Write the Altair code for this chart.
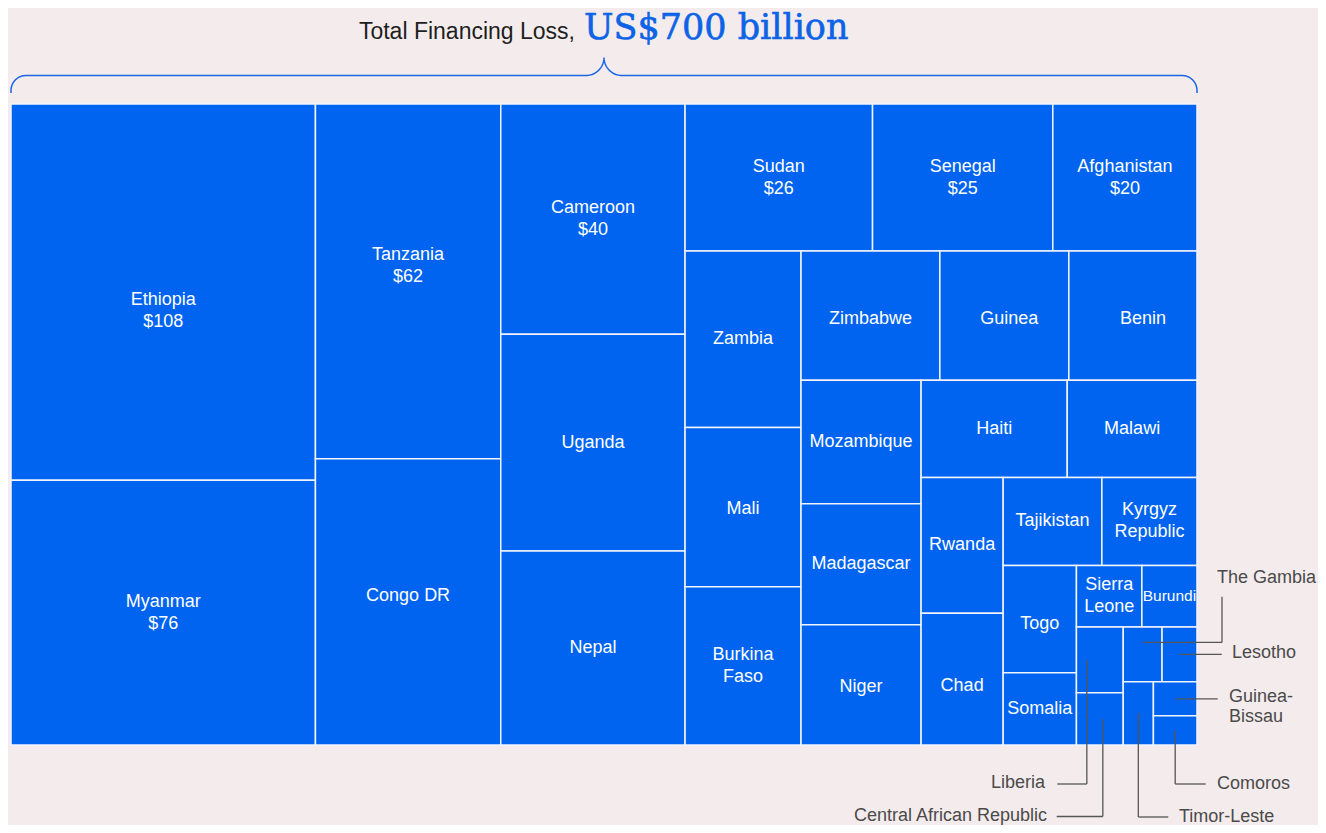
import altair as alt
import pandas as pd
import numpy as np

# ---------------- data ----------------
countries = ["Ethiopia", "Myanmar", "Tanzania", "Congo DR", "Cameroon", "Uganda", "Nepal",
             "Sudan", "Senegal", "Afghanistan", "Zambia", "Mali", "Burkina Faso", "Zimbabwe",
             "Guinea", "Benin", "Mozambique", "Madagascar", "Niger", "Haiti", "Malawi",
             "Rwanda", "Chad", "Tajikistan", "Kyrgyz Republic", "Togo", "Somalia",
             "Sierra Leone", "Burundi", "Liberia", "Central African Republic", "The Gambia",
             "Lesotho", "Timor-Leste", "Guinea-Bissau", "Comoros"]
loss_bn = [108, 76, 62, 50.0, 40, 37.7, 33.7,
           26, 25, 20, 19.3, 17.4, 17.3, 16.9,
           15.7, 15.6, 14.0, 13.7, 13.6, 13.4, 11.9,
           10.5, 10.2, 8.2, 7.9, 7.4, 5.0,
           3.8, 3.2, 2.9, 2.3, 2.0,
           1.8, 1.8, 1.4, 1.2]
show_value = ["Ethiopia", "Myanmar", "Tanzania", "Cameroon", "Sudan", "Senegal", "Afghanistan"]
outside_labels = ["Liberia", "Central African Republic", "The Gambia", "Lesotho",
                  "Timor-Leste", "Guinea-Bissau", "Comoros"]
wrapped_names = {"Burkina Faso": "Burkina\nFaso", "Kyrgyz Republic": "Kyrgyz\nRepublic",
                 "Sierra Leone": "Sierra\nLeone", "Guinea-Bissau": "Guinea-\nBissau"}
title_left = "Total Financing Loss,"
title_right = "US$700 billion"

# ---------------- layout (squarified treemap) ----------------
W, H = 1186, 641
RATIO = 0.82


def squarify(values, x0, y0, x1, y1, ratio):
    rects = [None] * len(values)
    n = len(values)
    i0 = i1 = 0
    value = float(sum(values))
    while i0 < n:
        dx, dy = x1 - x0, y1 - y0
        s = values[i1]
        i1 += 1
        vmin = vmax = s
        alpha = max(dy / dx, dx / dy) / (value * ratio)
        beta = s * s * alpha
        best = max(vmax / beta, beta / vmin)
        while i1 < n:
            nv = values[i1]
            s += nv
            vmin, vmax = min(vmin, nv), max(vmax, nv)
            beta = s * s * alpha
            r = max(vmax / beta, beta / vmin)
            if r > best:
                s -= nv
                break
            best = r
            i1 += 1
        row = list(range(i0, i1))
        if dx < dy:
            ny = y0 + dy * s / value
            k = dx / s
            xx = x0
            for j in row:
                rects[j] = (xx, y0, xx + values[j] * k, ny)
                xx += values[j] * k
            y0 = ny
        else:
            nx = x0 + dx * s / value
            k = dy / s
            yy = y0
            for j in row:
                rects[j] = (x0, yy, nx, yy + values[j] * k)
                yy += values[j] * k
            x0 = nx
        value -= s
        i0 = i1
    return rects


rects = squarify(loss_bn, 0, 0, W, H, RATIO)
cells = pd.DataFrame({
    "country": countries,
    "loss": loss_bn,
    "x0": [r[0] for r in rects], "y0": [r[1] for r in rects],
    "x1": [r[2] for r in rects], "y1": [r[3] for r in rects],
})
cells["cx"] = (cells["x0"] + cells["x1"]) / 2
cells["cy"] = (cells["y0"] + cells["y1"]) / 2

# label nudges (styling, px) -- applied to the centre of the text block
LH = 22
nudge = {"Ethiopia": (0, 19), "Tanzania": (0, -15), "Congo DR": (0, -6), "Guinea": (5, 3),
         "Benin": (10, 3), "Zimbabwe": (0, 3), "Chad": (0, 7), "Togo": (0, 5),
         "Niger": (0, 2), "Mali": (0, 2), "Sierra Leone": (0, 0)}
small_font = {"Burundi": 15.5}

inner = cells[~cells["country"].isin(outside_labels)].copy()
inner["label"] = [
    wrapped_names.get(c, c) + ("\n$" + format(v, "g") if c in show_value else "")
    for c, v in zip(inner["country"], inner["loss"])
]
inner["lx"] = [cx + nudge.get(c, (0, 0))[0] for c, cx in zip(inner["country"], inner["cx"])]
inner["ly"] = [cy + nudge.get(c, (0, 0))[1] - (lab.count("\n")) * LH / 2
               for c, cy, lab in zip(inner["country"], inner["cy"], inner["label"])]
inner["fs"] = [small_font.get(c, 18) for c in inner["country"]]

# outside annotations: leader routes (px in plot coords)
cpos = cells.set_index("country")
ann = {
    "The Gambia": dict(start=(0, -12), route="hv", ex=1211, ey=492.7, lx=1206, ly=474, side="left"),
    "Lesotho": dict(start=(0, 0), route="h", ex=1210.7, lx=1221, ly=549, side="left"),
    "Guinea-Bissau": dict(start=(0, 0), route="h", ex=1206.7, lx=1218, ly=593, side="left"),
    "Comoros": dict(start=(0, 0), route="vh", ex=1194.7, ey=680, lx=1206, ly=680, side="left"),
    "Timor-Leste": dict(start=(0, 0), route="vh", ex=1157.3, ey=713, lx=1168, ly=712.5, side="left"),
    "Liberia": dict(start=(-13, 0), route="vh", ex=1046.3, ey=680, lx=1034, ly=679, side="right"),
    "Central African Republic": dict(start=(3, 0), route="vh", ex=1045.7, ey=712.5, lx=1036, ly=712, side="right"),
}
segs, outs = [], []
for c in outside_labels:
    a = ann[c]
    sx = cpos.loc[c, "cx"] + a["start"][0]
    sy = cpos.loc[c, "cy"] + a["start"][1]
    if a["route"] == "h":
        segs.append((sx, sy, a["ex"], sy))
    elif a["route"] == "hv":
        segs.append((sx, sy, a["ex"], sy))
        segs.append((a["ex"], sy, a["ex"], a["ey"]))
    else:
        segs.append((sx, sy, sx, a["ey"]))
        segs.append((sx, a["ey"], a["ex"], a["ey"]))
    outs.append(dict(text=wrapped_names.get(c, c), x=a["lx"], y=a["ly"], side=a["side"]))
segdf = pd.DataFrame(segs, columns=["xa", "ya", "xb", "yb"])
outdf = pd.DataFrame(outs)

# brace above the treemap
def arc(cx, cy, r, a0, a1, n=24):
    t = np.radians(np.linspace(a0, a1, n))
    return list(zip(cx + r * np.cos(t), cy + r * np.sin(t)))

BY, R1, R2, PX = -28.5, 15, 18, 593
pts = [(0, -11)]
pts += arc(R1, BY + R1, R1, 180, 270)
pts += arc(PX - R2, BY - R2, R2, 90, 0)
pts += arc(PX + R2, BY - R2, R2, 180, 90)
pts += arc(W - R1, BY + R1, R1, 270, 360)
pts += [(W, -11)]
brace = pd.DataFrame({"x": [p[0] for p in pts], "y": [p[1] for p in pts], "i": range(len(pts))})

titles = pd.DataFrame({"x": [564], "y": [-65.5]})

# ---------------- chart ----------------
BLUE = "#0064F0"
xs = alt.Scale(domain=[0, W], nice=False, zero=False)
ys = alt.Scale(domain=[0, H], nice=False, zero=False, reverse=True)
FONT = "Liberation Sans"

rect = alt.Chart(cells).mark_rect(fill=BLUE, stroke="#F2F4FB", strokeWidth=1.5).encode(
    x=alt.X("x0:Q", scale=xs, axis=None), x2="x1:Q",
    y=alt.Y("y0:Q", scale=ys, axis=None), y2="y1:Q",
    tooltip=["country:N", "loss:Q"],
)

inner_text = alt.Chart(inner).mark_text(
    color="white", font=FONT, lineBreak="\n", lineHeight=LH, baseline="middle", align="center"
).encode(
    x=alt.X("lx:Q", scale=xs, axis=None), y=alt.Y("ly:Q", scale=ys, axis=None),
    text="label:N", size=alt.Size("fs:Q", scale=None, legend=None),
)

lead = alt.Chart(segdf).mark_rule(color="#555555", strokeWidth=1.3).encode(
    x=alt.X("xa:Q", scale=xs, axis=None), x2="xb:Q",
    y=alt.Y("ya:Q", scale=ys, axis=None), y2="yb:Q",
)

out_left = alt.Chart(outdf[outdf["side"] == "left"]).mark_text(
    color="#4A4A4A", font=FONT, fontSize=18, align="left", baseline="middle",
    lineBreak="\n", lineHeight=20,
).encode(x=alt.X("x:Q", scale=xs, axis=None), y=alt.Y("y:Q", scale=ys, axis=None), text="text:N")

out_right = alt.Chart(outdf[outdf["side"] == "right"]).mark_text(
    color="#4A4A4A", font=FONT, fontSize=18, align="right", baseline="middle",
).encode(x=alt.X("x:Q", scale=xs, axis=None), y=alt.Y("y:Q", scale=ys, axis=None), text="text:N")

brace_line = alt.Chart(brace).mark_line(color="#1A66E6", strokeWidth=1.5).encode(
    x=alt.X("x:Q", scale=xs, axis=None), y=alt.Y("y:Q", scale=ys, axis=None), order="i:Q",
)

t_left = alt.Chart(titles).mark_text(
    text=title_left, font=FONT, fontSize=23, color="#1E1E1E", align="right", baseline="alphabetic"
).encode(x=alt.X("x:Q", scale=xs, axis=None), y=alt.Y("y:Q", scale=ys, axis=None))

t_right = alt.Chart(titles).mark_text(
    text=title_right, font="DejaVu Serif", fontSize=35, color="#0D63E6",
    align="left", baseline="alphabetic", dx=9, stroke="#0D63E6", strokeWidth=0.6,
).encode(x=alt.X("x:Q", scale=xs, axis=None), y=alt.Y("y:Q", scale=ys, axis=None))

chart = alt.layer(rect, inner_text, lead, out_left, out_right, brace_line, t_left, t_right).properties(
    width=W, height=H,
    background="#F4ECEC",
    padding={"left": 3, "top": 96, "right": 121, "bottom": 80},
    autosize=alt.AutoSizeParams(type="none"),
).configure_view(stroke=None)

chart.save("out.html", embed_options={"renderer": "svg", "actions": False})
